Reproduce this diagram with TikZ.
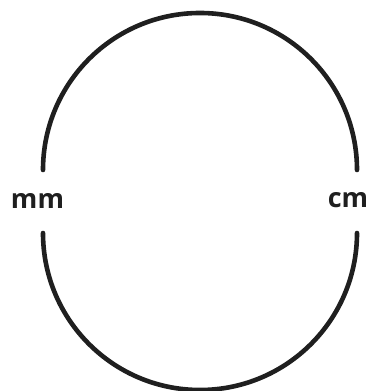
\documentclass[tikz,border=0pt]{standalone}
\usepackage{fontspec}
\setmainfont{Open Sans}
\usetikzlibrary{positioning}
\tikzset{
  halfring/.style={draw=black!88, line width=4.6pt, line cap=round},
  unitlabel/.style={font=\bfseries\fontsize{27}{30}\selectfont, text=black!88, inner sep=0pt}
}

\begin{document}
\begin{tikzpicture}[x=1pt,y=1pt]
    \useasboundingbox (0,0) rectangle (368,391);
    \coordinate (topleft) at (43,221);
    \coordinate (botleft) at (43,158);
    \draw[halfring] (topleft) arc[start angle=180, end angle=0, radius=157];
    \draw[halfring] (botleft) arc[start angle=180, end angle=360, radius=157];
    \node[unitlabel] (mm) at (37.5,190.5) {mm};
    \node[unitlabel] (cm) at (348,190.5) {cm};
  \end{tikzpicture}
\end{document}
